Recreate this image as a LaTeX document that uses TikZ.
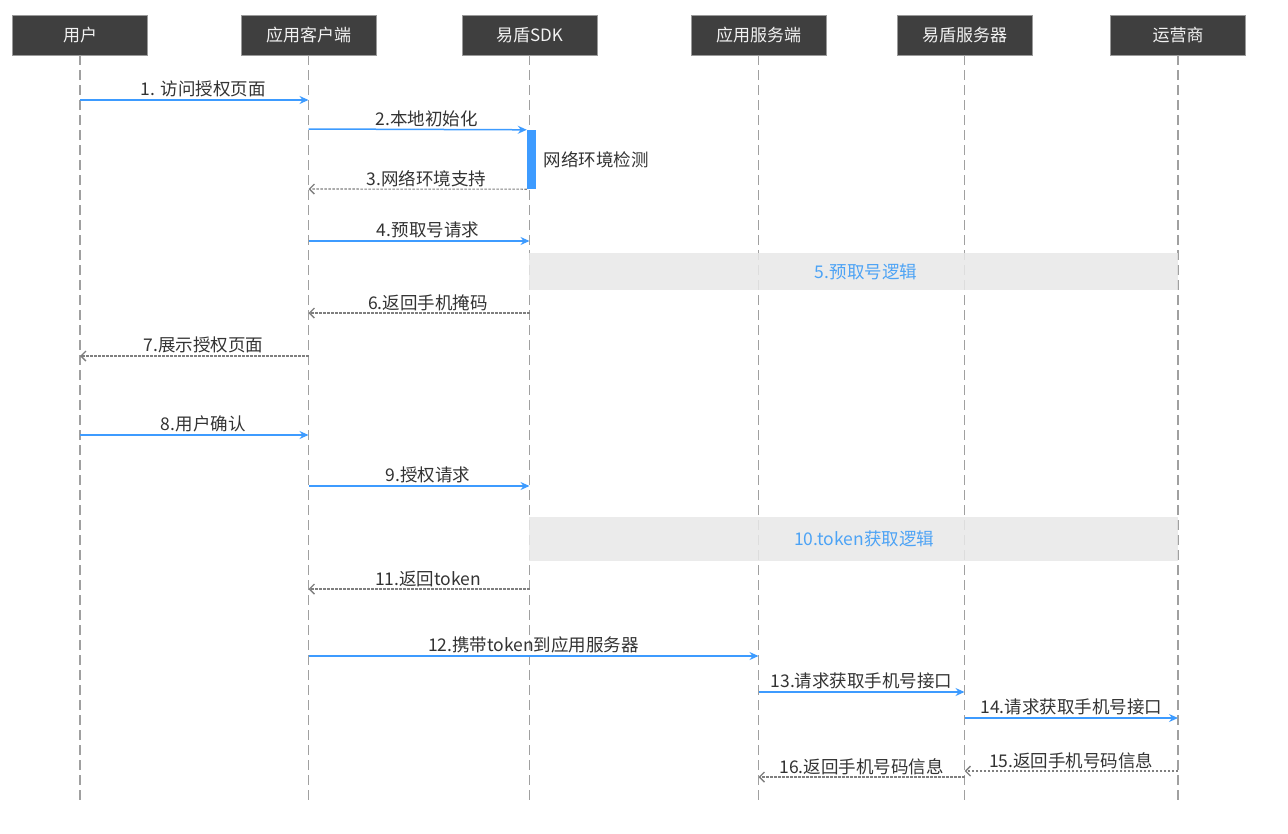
\documentclass[tikz,border=0pt]{standalone}
\usepackage{fontspec}
\setmainfont{Noto Sans CJK SC}
\usetikzlibrary{positioning}
\usetikzlibrary{arrows.meta}

\definecolor{hdgray}{HTML}{3F3F3F}
\definecolor{hdedge}{HTML}{9A9A9A}
\definecolor{hdtext}{HTML}{F2F2F2}
\definecolor{lifegray}{HTML}{A0A0A0}
\definecolor{reqblue}{HTML}{3D9BFF}
\definecolor{respgray}{HTML}{7F7F7F}
\definecolor{lblgray}{HTML}{333333}
\definecolor{bandgray}{HTML}{E8E8E8}
\definecolor{bandblue}{HTML}{4DA3F5}

\begin{document}
\begin{tikzpicture}[x=1pt,y=-1pt,
    head/.style={draw=hdedge,fill=hdgray,text=hdtext,minimum width=135pt,minimum height=40pt,inner sep=0pt,font=\fontsize{17}{20}\selectfont},
    life/.style={draw=lifegray,line width=1.2pt,dash pattern=on 10pt off 5pt},
    req/.style={draw=reqblue,line width=1.5pt,-{Stealth[length=9pt,width=8pt,inset=3pt]}},
    resp/.style={draw=respgray,line width=1.1pt,dash pattern=on 2.5pt off 1.5pt,-{Straight Barb[length=5pt,width=10pt,line width=1.4pt]}},
    lbl/.style={above,inner sep=2pt,text=lblgray,font=\fontsize{17.5}{20}\selectfont},
    band/.style={fill=bandgray,fill opacity=0.85,minimum width=649pt,inner sep=0pt},
    bandtxt/.style={text=bandblue,font=\fontsize{17.5}{20}\selectfont}]
    \useasboundingbox (0,0) rectangle (1288,833);

    % lifelines
    \node[head] (user) at (80,35) {用户};
    \node[head] (client) at (308.5,35) {应用客户端};
    \node[head] (sdk) at (529.5,35) {易盾SDK};
    \node[head] (appsrv) at (758.5,35) {应用服务端};
    \node[head] (ydsrv) at (964.5,35) {易盾服务器};
    \node[head] (isp) at (1178,35) {运营商};

    \draw[life] (user.south) -- (user.south |- 0,800);
    \draw[life] (client.south) -- (client.south |- 0,800);
    \draw[life] (sdk.south) -- (sdk.south |- 0,800);
    \draw[life] (appsrv.south) -- (appsrv.south |- 0,800);
    \draw[life] (ydsrv.south) -- (ydsrv.south |- 0,800);
    \draw[life] (isp.south) -- (isp.south |- 0,800);

    % bands
    \node[band,minimum height=37pt] (pre) at (853.5,271.5) {};
    \node[bandtxt] (pretxt) at (866,271.5) {5.预取号逻辑};
    \node[band,minimum height=44pt] (tok) at (853.5,539) {};
    \node[bandtxt] (toktxt) at (864,539) {10.token获取逻辑};

    % activation
    \node[fill=reqblue,minimum width=9pt,minimum height=59pt,inner sep=0pt] (act) at (531.5,159.5) {};
    \node[right=4pt of act,text=lblgray,font=\fontsize{17.5}{20}\selectfont] (acttxt) {网络环境检测};

    % messages
    \draw[req] (user |- 0,100) -- node[lbl,xshift=9pt] {1. 访问授权页面} (client |- 0,100);
    \draw[req] (client |- 0,129) -- node[lbl,xshift=9pt] {2.本地初始化} (act.north west);
    \draw[resp] (act.south west) -- node[lbl,xshift=9pt] {3.网络环境支持} (client |- 0,189);
    \draw[req] (client |- 0,241) -- node[lbl,xshift=9pt] {4.预取号请求} (sdk |- 0,241);
    \draw[resp] (sdk |- 0,313) -- node[lbl,xshift=9pt] {6.返回手机掩码} (client |- 0,313);
    \draw[resp] (client |- 0,356) -- node[lbl,xshift=9pt] {7.展示授权页面} (user |- 0,356);
    \draw[req] (user |- 0,435) -- node[lbl,xshift=9pt] {8.用户确认} (client |- 0,435);
    \draw[req] (client |- 0,486) -- node[lbl,xshift=9pt] {9.授权请求} (sdk |- 0,486);
    \draw[resp] (sdk |- 0,589) -- node[lbl,xshift=9pt] {11.返回token} (client |- 0,589);
    \draw[req] (client |- 0,656) -- node[lbl] {12.携带token到应用服务器} (appsrv |- 0,656);
    \draw[req] (appsrv |- 0,692) -- node[lbl] {13.请求获取手机号接口} (ydsrv |- 0,692);
    \draw[req] (ydsrv |- 0,718) -- node[lbl] {14.请求获取手机号接口} (isp |- 0,718);
    \draw[resp] (isp |- 0,771) -- node[lbl] {15.返回手机号码信息} (ydsrv |- 0,771);
    \draw[resp] (ydsrv |- 0,777) -- node[lbl] {16.返回手机号码信息} (appsrv |- 0,777);
\end{tikzpicture}
\end{document}
